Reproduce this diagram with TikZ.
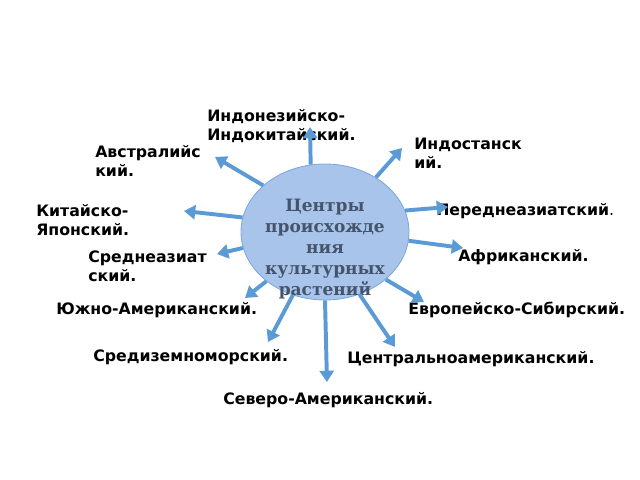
\documentclass[tikz,border=0pt]{standalone}
\usepackage{fontspec}
\setmainfont{DejaVu Sans}
\newfontfamily\titlefont{DejaVu Serif}
\usepackage{tikz}
\usetikzlibrary{arrows.meta,shapes.geometric}
\definecolor{ArrowBlue}{RGB}{91,155,213}
\definecolor{CircFill}{RGB}{169,196,235}
\definecolor{CircLine}{RGB}{125,167,217}
\definecolor{TitleText}{RGB}{68,84,106}

\begin{document}
\begin{tikzpicture}[x=0.025cm, y=-0.025cm,
    centre/.style={ellipse, draw=CircLine, fill=CircFill, line width=0.6pt,
        minimum width=168*0.025cm, minimum height=136*0.025cm, inner sep=0pt},
    title/.style={font=\titlefont\bfseries\fontsize{12.1}{14.9}\selectfont,
        text=TitleText, align=center, inner sep=0pt},
    lbl/.style={anchor=north west, inner sep=0pt, align=left,
        font=\bfseries\fontsize{11.2}{13.5}\selectfont},
    arr/.style={-{Triangle[width=10pt, length=8pt]}, line width=2.8pt, ArrowBlue},
]
\useasboundingbox (0,0) rectangle (640,480);

% centre
\node[centre] (c) at (325,232) {};
\node[title] (t) at (325,249) {Центры\\происхожде\\ния\\культурных\\растений};

% labels
\node[lbl] (indon) at (207,109) {Индонезийско-\\Индокитайский.};
\node[lbl] (austr) at (95,145) {Австралийс\\кий.};
\node[lbl] (indost) at (414,138) {Индостанск\\ий.};
\node[lbl] (china) at (36,204) {Китайско-\\Японский.};
\node[lbl] (pered) at (436,203) {Переднеазиатский\mdseries.};
\node[lbl] (afr) at (458,249) {Африканский.};
\node[lbl] (sredaz) at (88,251) {Среднеазиат\\ский.};
\node[lbl] (yuzhn) at (56,302) {Южно-Американский.};
\node[lbl] (evrop) at (408,302) {Европейско-Сибирский.};
\node[lbl] (sredizem) at (93,349) {Средиземноморский.};
\node[lbl] (centr) at (347,351) {Центральноамериканский.};
\node[lbl] (sever) at (223,392) {Северо-Американский.};

% arrow tips
\coordinate (p1) at (310,127);
\coordinate (p2) at (215,157);
\coordinate (p3) at (402,148);
\coordinate (p4) at (448,207);
\coordinate (p5) at (463,248);
\coordinate (p6) at (184,211);
\coordinate (p7) at (217,254);
\coordinate (p8) at (245,298);
\coordinate (p9) at (268,342);
\coordinate (p10) at (327,382);
\coordinate (p11) at (395,347);
\coordinate (p12) at (424,302);

\foreach \a/\p in {102.6/p1, 143.7/p2, 47.2/p3, 15.4/p4, 354.4/p5, 170.3/p6,
    191/p7, 220.4/p8, 243.4/p9, 270/p10, 299.6/p11, 322.7/p12}
    \draw[arr] (c.\a) -- (\p);
\end{tikzpicture}
\end{document}
